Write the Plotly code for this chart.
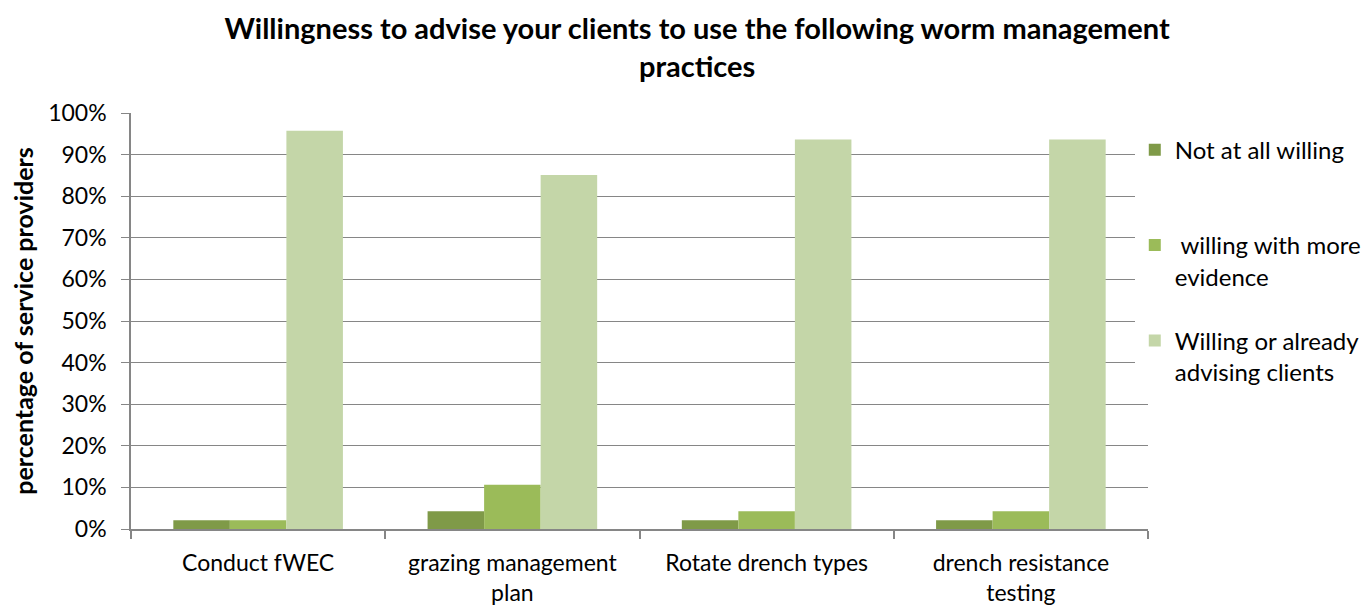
import plotly.graph_objects as go

# survey of 47 service providers, shares
CATEGORIES = ["Conduct fWEC", "grazing management<br>plan",
              "Rotate drench types", "drench resistance<br>testing"]
NOT_WILLING = [0.0213, 0.0426, 0.0213, 0.0213]
WITH_EVIDENCE = [0.0213, 0.1064, 0.0426, 0.0426]
WILLING = [0.9574, 0.8511, 0.9362, 0.9362]
SERIES_NAMES = ["Not at all willing<br> ", " willing with more<br>evidence",
                "Willing or already<br>advising clients"]

FONT = "Lato"
GRID = "#868686"
COLORS = ["#7F9A48", "#9BBB59", "#C4D6A8"]


def generate_plot() -> None:
    fig = go.Figure()
    for name, vals, col in zip(SERIES_NAMES,
                               [NOT_WILLING, WITH_EVIDENCE, WILLING], COLORS):
        fig.add_trace(go.Bar(x=CATEGORIES, y=vals, name=name,
                             legendgroup=name,
                             marker=dict(color=col, line=dict(width=0))))

    fig.update_layout(
        width=1370, height=610,
        plot_bgcolor="white", paper_bgcolor="white",
        font=dict(family=FONT, color="black", size=23),
        barmode="group", bargap=0.333, bargroupgap=0,
        margin=dict(l=119, r=230, t=105, b=87),
        title=dict(
            text="<b>Willingness to advise your clients to use the following worm management<br>practices</b>",
            x=0.503, xanchor="center", y=0.949, yanchor="top",
            font=dict(size=29, family=FONT, color="black")),
        legend=dict(x=0.987, y=0.965, xanchor="left", yanchor="top",
                    valign="top", tracegroupgap=30,
                    font=dict(size=24, family=FONT),
                    itemwidth=30),
        xaxis=dict(showline=True, linecolor=GRID, linewidth=1.5,
                   ticks="outside", tickson="boundaries", ticklen=8,
                   tickcolor=GRID, tickwidth=1.5, ticklabelstandoff=13,
                   tickfont=dict(size=23), showgrid=False),
        yaxis=dict(range=[0, 1], dtick=0.1, tickformat=".0%",
                   showline=True, linecolor=GRID, linewidth=1.5,
                   ticks="outside", ticklen=8, tickcolor=GRID,
                   ticklabelstandoff=10,
                   showgrid=True, gridcolor=GRID, gridwidth=1,
                   zeroline=False, tickfont=dict(size=23),
                   title=dict(text="<b>percentage of service providers</b>",
                              font=dict(size=25), standoff=11)),
    )

    fig.write_html("out.html")


if __name__ == "__main__":
    generate_plot()
